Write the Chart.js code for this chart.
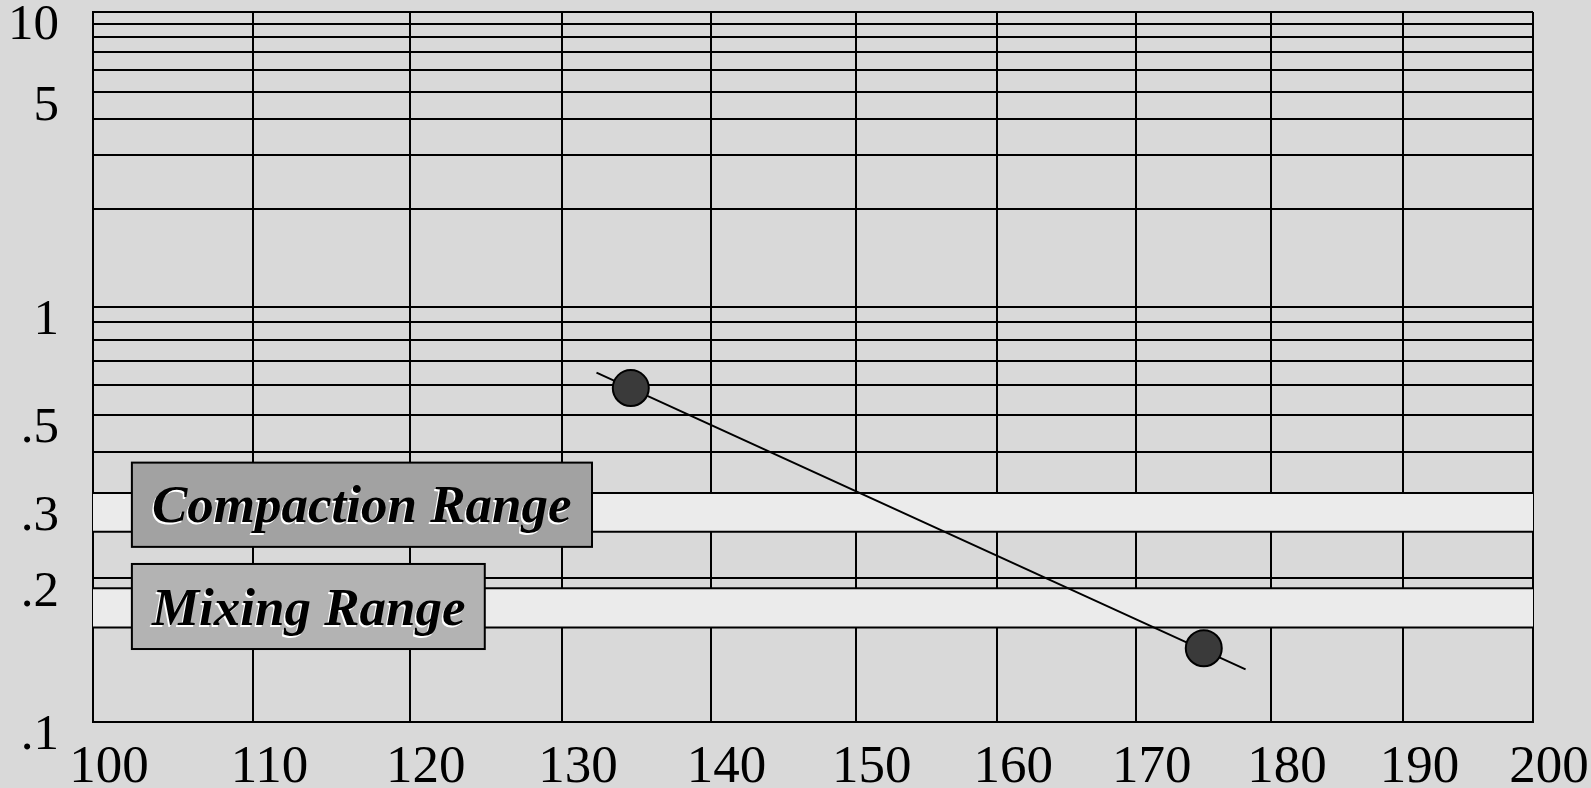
<!DOCTYPE html>
<html>
<head>
<meta charset="utf-8">
<script src="https://cdn.jsdelivr.net/npm/chart.js@4.4.1/dist/chart.umd.min.js"></script>
<style>
  html, body { margin: 0; padding: 0; background: #d9d9d9; }
  canvas { display: block; }
</style>
</head>
<body>
<canvas id="c" width="1591" height="788"></canvas>
<script>
// ---- data ----
const temperatureTicks = [100, 110, 120, 130, 140, 150, 160, 170, 180, 190, 200];
const viscosityTicks = [0.1, 0.2, 0.3, 0.4, 0.5, 0.6, 0.7, 0.8, 0.9, 1, 2, 3, 4, 5, 6, 7, 8, 9, 10];
const viscosityTickLabels = ['.1', '.2', '.3', '', '.5', '', '', '', '', '1', '', '', '', '5', '', '', '', '', '10'];
const measuredTemps = [134.6, 175.0];
const measuredVisc = [0.59, 0.141];
const fitLineTemps = [132.3, 178.1];
const fitLineVisc = [0.65, 0.1275];
const compactionRange = [0.256, 0.317];
const mixingRange = [0.156, 0.19];
const rangeNames = ['Compaction Range', 'Mixing Range'];

// ---- chart axis transforms (log of absolute temperature, log-log of viscosity in mPa·s) ----
const fx = t => Math.log10(t + 273.15);
const fy = v => Math.log10(Math.log10(v * 1000));

const xMin = temperatureTicks[0], xMax = temperatureTicks[temperatureTicks.length - 1];
const bandLine = (v) => [{ x: fx(xMin), y: fy(v) }, { x: fx(xMax), y: fy(v) }];

// label boxes (annotation layout, in chart value units)
const labelBoxes = [
  { text: rangeNames[0], t0: 102.4, t1: 132.0, v0: 0.236, v1: 0.377, fill: '#a2a2a2' },
  { text: rangeNames[1], t0: 102.4, t1: 124.9, v0: 0.1405, v1: 0.2156, fill: '#b3b3b3' }
];

const bgPlugin = {
  id: 'bg',
  beforeDraw(chart) {
    const ctx = chart.ctx;
    ctx.save();
    ctx.fillStyle = '#d9d9d9';
    ctx.fillRect(0, 0, chart.width, chart.height);
    ctx.restore();
  }
};

const rangeLabelPlugin = {
  id: 'rangeLabels',
  afterDatasetsDraw(chart) {
    const { ctx } = chart;
    const xs = chart.scales.x, ys = chart.scales.y;
    labelBoxes.forEach(b => {
      const l = xs.getPixelForValue(fx(b.t0));
      const r = xs.getPixelForValue(fx(b.t1));
      const top = ys.getPixelForValue(fy(b.v1));
      const bot = ys.getPixelForValue(fy(b.v0));
      ctx.save();
      ctx.fillStyle = b.fill;
      ctx.fillRect(l, top, r - l, bot - top);
      ctx.lineWidth = 2;
      ctx.strokeStyle = '#000';
      ctx.strokeRect(l, top, r - l, bot - top);
      ctx.font = 'italic bold 53px "Liberation Serif", "Times New Roman", serif';
      ctx.textAlign = 'left';
      ctx.textBaseline = 'alphabetic';
      ctx.fillStyle = '#ffffff';
      ctx.fillText(b.text, l + 18.5, bot - 22.5);
      ctx.fillStyle = '#000000';
      ctx.fillText(b.text, l + 20, bot - 24.5);
      ctx.restore();
    });
  }
};

const serif = '"Liberation Serif", "Times New Roman", serif';

new Chart(document.getElementById('c'), {
  type: 'line',
  data: {
    datasets: [
      { label: 'Compaction top', data: bandLine(compactionRange[1]), borderColor: '#000', borderWidth: 2, pointRadius: 0, fill: false, order: 10 },
      { label: 'Compaction bottom', data: bandLine(compactionRange[0]), borderColor: '#000', borderWidth: 2, pointRadius: 0, fill: '-1', backgroundColor: '#ebebeb', order: 10 },
      { label: 'Mixing top', data: bandLine(mixingRange[1]), borderColor: '#000', borderWidth: 2, pointRadius: 0, fill: false, order: 10 },
      { label: 'Mixing bottom', data: bandLine(mixingRange[0]), borderColor: '#000', borderWidth: 2, pointRadius: 0, fill: '-1', backgroundColor: '#ebebeb', order: 10 },
      { label: 'Fit', data: fitLineTemps.map((t, i) => ({ x: fx(t), y: fy(fitLineVisc[i]) })), borderColor: '#000', borderWidth: 2, pointRadius: 0, fill: false, order: 2 },
      { label: 'Measured', data: measuredTemps.map((t, i) => ({ x: fx(t), y: fy(measuredVisc[i]) })), showLine: false, pointRadius: 18, pointHoverRadius: 18, pointBackgroundColor: '#3a3a3a', pointBorderColor: '#000', pointBorderWidth: 2, fill: false, order: 1 }
    ]
  },
  options: {
    responsive: false,
    animation: false,
    layout: { autoPadding: false, padding: { left: 0, top: 12, right: 58, bottom: 0 } },
    plugins: { legend: { display: false }, tooltip: { enabled: false } },
    scales: {
      x: {
        type: 'linear',
        min: fx(xMin), max: fx(xMax),
        afterBuildTicks: s => { s.ticks = temperatureTicks.map(t => ({ value: fx(t) })); },
        afterFit: s => { s.height = 66; s.paddingLeft = 0; s.paddingRight = 0; },
        grid: { color: '#000', lineWidth: 2, drawTicks: false },
        border: { display: true, color: '#000', width: 2 },
        ticks: { autoSkip: false, maxRotation: 0, minRotation: 0, padding: 14, labelOffset: 16, color: '#000',
                 font: { family: serif, size: 53 },
                 callback: (v, i) => String(temperatureTicks[i]) }
      },
      y: {
        type: 'linear',
        min: fy(viscosityTicks[0]), max: fy(viscosityTicks[viscosityTicks.length - 1]),
        afterBuildTicks: s => { s.ticks = viscosityTicks.map(v => ({ value: fy(v) })); },
        afterFit: s => { s.width = 93; s.paddingTop = 0; s.paddingBottom = 0; },
        grid: { color: '#000', lineWidth: 2, drawTicks: false },
        border: { display: true, color: '#000', width: 2 },
        ticks: { autoSkip: false, padding: 34, labelOffset: 14, color: '#000',
                 font: { family: serif, size: 51 },
                 callback: (v, i) => viscosityTickLabels[i] }
      }
    }
  },
  plugins: [bgPlugin, rangeLabelPlugin]
});
</script>
</body>
</html>
